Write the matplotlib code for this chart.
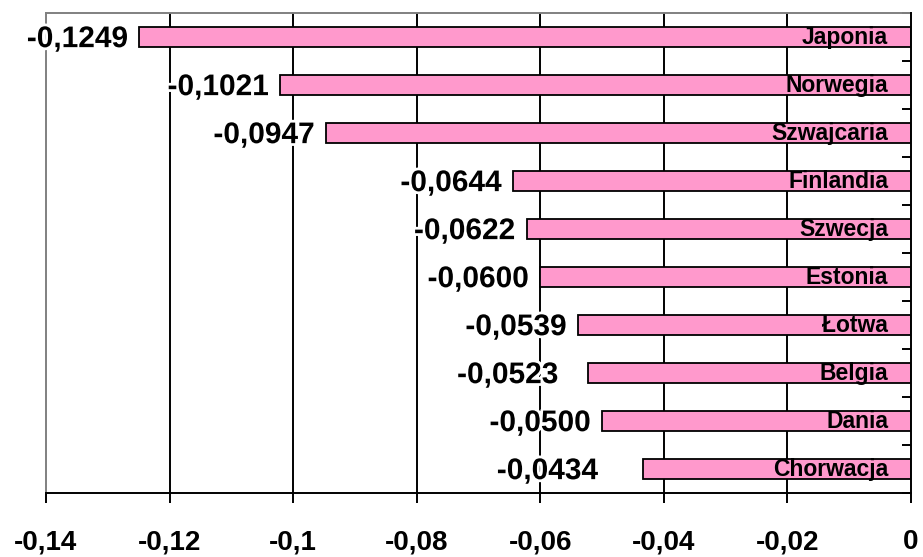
import matplotlib
matplotlib.use("Agg")
import matplotlib.pyplot as plt
import matplotlib.patheffects as pe
import numpy as np

countries = ["Japonia", "Norwegia", "Szwajcaria", "Finlandia", "Szwecja",
             "Estonia", "Łotwa", "Belgia", "Dania", "Chorwacja"]
values = [-0.1249, -0.1021, -0.0947, -0.0644, -0.0622,
          -0.0600, -0.0539, -0.0523, -0.0500, -0.0434]
x_ticks = [-0.14, -0.12, -0.10, -0.08, -0.06, -0.04, -0.02, 0.0]
x_tick_labels = ["-0,14", "-0,12", "-0,1", "-0,08", "-0,06", "-0,04", "-0,02", "0"]

# distance (points) between each value label and the end of its bar
label_gap_pt = [8, 8, 8, 8, 8, 8, 8, 21, 8, 32]

plt.rcParams['font.family'] = ['Liberation Sans', 'DejaVu Sans']
plt.rcParams['font.weight'] = 'bold'

fig = plt.figure(figsize=(9.23, 5.57), dpi=100)
W, H = 923, 557
ax = fig.add_axes([46 / W, 1 - 493 / H, (911 - 46) / W, (493 - 13) / H])

y = np.arange(len(countries))

# vertical gridlines behind the bars
for xv in x_ticks[1:-1]:
    ax.axvline(xv, color='black', linewidth=1.4, zorder=1)

ax.barh(y, values, height=0.4, color='#FF99CC', edgecolor='black',
        linewidth=1.3, zorder=2)

halo = [pe.withStroke(linewidth=4, foreground='white')]
for yi, v, name, gap in zip(y, values, countries, label_gap_pt):
    txt = f"{v:.4f}".replace('.', ',')
    ax.annotate(txt, xy=(v, yi), xytext=(-gap, -7.3), textcoords='offset points',
                ha='right', va='baseline', fontsize=21.5, fontweight='bold',
                color='black', path_effects=halo, zorder=4,
                annotation_clip=False)
    ax.annotate(name, xy=(0, yi), xytext=(-16.5, -4.8), textcoords='offset points',
                ha='right', va='baseline', fontsize=16.5, fontweight='bold',
                color='black', zorder=4)

ax.set_xlim(-0.14, 0)
ax.set_ylim(len(countries) - 0.5, -0.5)

ax.set_xticks(x_ticks)
ax.set_xticklabels(x_tick_labels, fontsize=20, fontweight='bold')
ax.tick_params(axis='x', direction='out', length=7.2, width=1.4, pad=19,
               color='black')

# category boundaries marked on the right-hand axis
ax.set_yticks(np.arange(len(countries) + 1) - 0.5)
ax.set_yticklabels([])
ax.tick_params(axis='y', left=False, right=True, direction='in', length=6.5,
               width=1.4, color='black', labelleft=False, labelright=False)

for side in ('left', 'top'):
    ax.spines[side].set_color('#808080')
    ax.spines[side].set_linewidth(1.4)
for side in ('right', 'bottom'):
    ax.spines[side].set_color('black')
    ax.spines[side].set_linewidth(1.4)
    ax.spines[side].set_zorder(3)

fig.savefig("out.png", dpi=100)
